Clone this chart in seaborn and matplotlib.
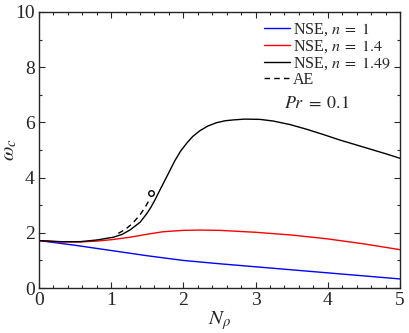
import pandas as pd
from matplotlib import pyplot as plt
from matplotlib.ticker import MultipleLocator
import seaborn as sns

# values
n_rho_blue = [0, 0.5, 1, 1.5, 2, 2.5, 3, 3.5, 4, 4.5, 5]
omega_blue = [1.72, 1.55, 1.36, 1.17, 1.0, 0.88, 0.77, 0.66, 0.55, 0.44, 0.33]

n_rho_red = [0, 0.3, 0.57, 0.8, 1.0, 1.26, 1.5, 1.72, 2.0, 2.23, 2.5, 3.0, 3.5, 4.0, 4.5, 5.0]
omega_red = [1.72, 1.67, 1.67, 1.7, 1.75, 1.84, 1.95, 2.04, 2.09, 2.1, 2.09, 2.02, 1.92, 1.78, 1.6, 1.39]

n_rho_black = [0, 0.3, 0.57, 0.8, 1.03, 1.15, 1.26, 1.4, 1.49, 1.55, 1.607, 1.676, 1.77, 1.88,
               1.96, 2.045, 2.13, 2.23, 2.34, 2.46, 2.58, 2.69, 2.85, 3.06, 3.245, 3.48,
               3.71, 3.94, 4.17, 4.4, 4.63, 4.82, 5.0]
omega_black = [1.72, 1.68, 1.68, 1.74, 1.84, 1.94, 2.1, 2.38, 2.68, 2.92, 3.19, 3.55, 4.03,
               4.6, 4.95, 5.24, 5.49, 5.70, 5.87, 5.99, 6.06, 6.09, 6.12, 6.11, 6.05, 5.92,
               5.75, 5.56, 5.36, 5.18, 5.0, 4.85, 4.7]

n_rho_ae = [1.1, 1.2, 1.3, 1.4, 1.47, 1.52]
omega_ae = [1.98, 2.13, 2.35, 2.65, 2.92, 3.15]
ae_end = (1.547, 3.43)

labels = [r'NSE, $n\;=\;1$', r'NSE, $n\;=\;1.4$', r'NSE, $n\;=\;1.49$', 'AE']
colors = ['#0000ff', '#ff0000', 'black']

sns.set_style("ticks")
plt.rcParams['font.family'] = ['Liberation Serif', 'DejaVu Serif']
plt.rcParams['mathtext.fontset'] = 'stix'

fig = plt.figure(figsize=(4.09, 3.33), dpi=100)
ax = fig.add_axes([0.095, 0.135, 0.883, 0.829])

curves = [(n_rho_blue, omega_blue), (n_rho_red, omega_red), (n_rho_black, omega_black)]
for (x, y), c, lab in zip(curves, colors, labels):
    df = pd.DataFrame({'x': x, 'y': y})
    sns.lineplot(data=df, x='x', y='y', color=c, lw=1.0, label=lab, ax=ax)

df_ae = pd.DataFrame({'x': n_rho_ae, 'y': omega_ae})
sns.lineplot(data=df_ae, x='x', y='y', color='black', lw=1.0, ls=(0, (4, 3)), label=labels[3], ax=ax)
ax.plot([ae_end[0]], [ae_end[1]], 'o', mfc='none', mec='black', ms=4, mew=1)

ax.set_xlim(0, 5)
ax.set_ylim(0, 10)
ax.xaxis.set_major_locator(MultipleLocator(1))
ax.xaxis.set_minor_locator(MultipleLocator(0.2))
ax.yaxis.set_major_locator(MultipleLocator(2))
ax.yaxis.set_minor_locator(MultipleLocator(1))
ax.tick_params(which='both', direction='in', top=True, right=True, labelsize=14, pad=3)
ax.tick_params(which='major', length=4, width=0.8)
ax.tick_params(which='minor', length=2.5, width=0.8)
for s in ax.spines.values():
    s.set_linewidth(1.0)

ax.set_xlabel(r'$N_\rho$', fontsize=15, labelpad=0)
ax.set_ylabel(r'$\omega_c$', fontsize=15)
ax.yaxis.set_label_coords(-0.055, 0.5)

ax.legend(loc='upper right', frameon=False, fontsize=11.5, handlelength=1.6,
          handletextpad=0.2, labelspacing=0.0, borderaxespad=0.2)
ax.text(3.85, 6.7, r'$Pr\;=\;0.1$', fontsize=13, ha='center', va='center')

fig.savefig('out.png', dpi=100)
